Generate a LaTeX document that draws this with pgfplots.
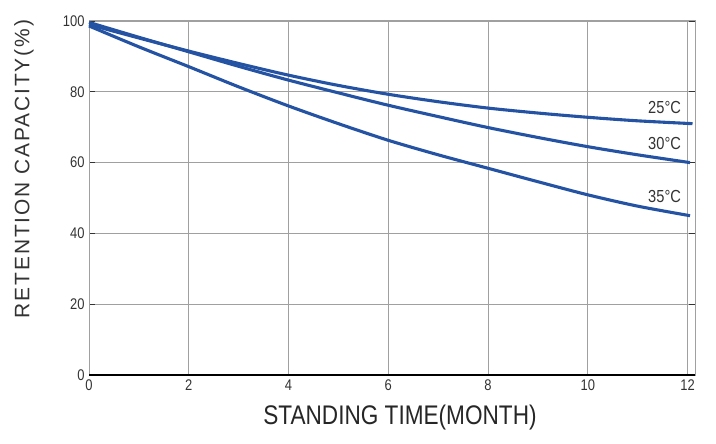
\documentclass[border=0pt]{standalone}
\usepackage{fontspec}
\setmainfont{Liberation Sans}
\newfontfamily\narrowfont{Liberation Sans}[FakeStretch=0.84]
\newfontfamily\widefont{Liberation Sans}[LetterSpace=9]
\usepackage{pgfplots}
\pgfplotsset{compat=1.18}

\definecolor{curveblue}{HTML}{2553A3}
\definecolor{gridgray}{HTML}{A0A0A0}
\definecolor{labelgray}{HTML}{333333}

% retention capacity vs. standing time at three storage temperatures
\pgfplotstableread{
x y
0 99.0
1 95.2
2 91.5
3 88.0
4 84.7
5 81.8
6 79.3
7 77.2
8 75.4
9 74.0
10 72.8
11 71.8
12.1 71.0
}\tempA
\pgfplotstableread{
x y
0 99.6
1 95.4
2 91.3
3 87.2
4 83.3
5 79.7
6 76.2
7 73.0
8 69.9
9 67.1
10 64.5
11 62.2
12.05 60.0
}\tempB
\pgfplotstableread{
x y
0 98.6
1 92.7
2 87.1
3 81.4
4 76.0
5 71.0
6 66.3
7 62.2
8 58.4
9 54.6
10 50.9
11 47.7
12.05 45.0
}\tempC

\begin{document}
\begin{tikzpicture}
\useasboundingbox (0,0) rectangle (716bp,444bp);
\begin{axis}[
  at={(89bp,69bp)}, anchor=south west,
  scale only axis,
  width=606bp, height=354bp,
  xmin=0, xmax=12.15, ymin=0, ymax=100,
  xtick={0,2,...,12}, ytick={0,20,...,100},
  grid=major,
  major grid style={draw=gridgray, line width=0.9bp},
  axis line style={draw=gridgray, line width=1bp},
  xtick style={draw=none},
  ytick style={draw=black!80, line width=1.2bp},
  tick align=inside,
  major tick length=6bp,
  /pgf/number format/assume math mode=true,
  tick label style={font=\narrowfont\fontsize{15.5}{15.5}\selectfont, text=labelgray},
  xticklabel style={yshift=-1bp},
  yticklabel style={xshift=-1bp},
  clip=false,
]
\addplot[curveblue, line width=3.1bp, smooth, tension=0.5] table {\tempA};
\addplot[curveblue, line width=3.1bp, smooth, tension=0.5] table {\tempB};
\addplot[curveblue, line width=3.1bp, smooth, tension=0.5] table {\tempC};
\draw[black, line width=1.3bp] (rel axis cs:0,0) -- (rel axis cs:1,0);
\node[font=\narrowfont\fontsize{17.5}{17.5}\selectfont, text=labelgray] at (axis cs:11.54,75.7) {25°C};
\node[font=\narrowfont\fontsize{17.5}{17.5}\selectfont, text=labelgray] at (axis cs:11.54,65.3) {30°C};
\node[font=\narrowfont\fontsize{17.5}{17.5}\selectfont, text=labelgray] at (axis cs:11.54,50.3) {35°C};
\end{axis}
\node[rotate=90, font=\widefont\fontsize{21}{21}\selectfont, text=labelgray] at (24bp,275bp) {RETENTION CAPACITY(\%)};
\node[font=\narrowfont\fontsize{27}{27}\selectfont, text=black!85] at (400bp,26bp) {STANDING TIME(MONTH)};
\end{tikzpicture}
\end{document}
